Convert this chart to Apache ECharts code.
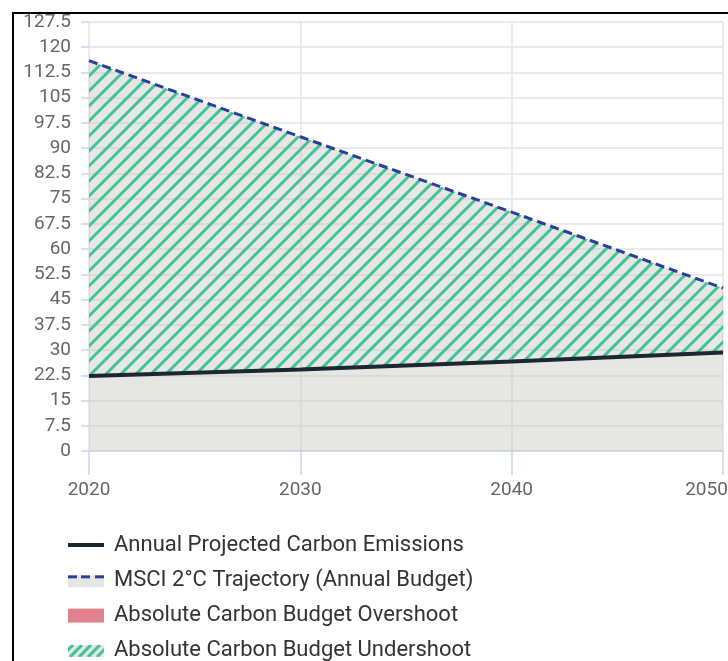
<!DOCTYPE html>
<html>
<head>
<meta charset="utf-8">
<script src="https://cdn.jsdelivr.net/npm/echarts@6/dist/echarts.min.js"></script>
<style>
html,body{margin:0;padding:0;background:#fff;}
#chart{width:728px;height:661px;}
</style>
</head>
<body>
<div id="chart"></div>
<script>
// ---- data ----
var years = [2020, 2030, 2040, 2050];
var emissions = [22.3, 24.2, 26.6, 29.3];
var trajectory = [116, 93.4, 71, 48.4];
var yTicks = [0, 7.5, 15, 22.5, 30, 37.5, 45, 52.5, 60, 67.5, 75, 82.5, 90, 97.5, 105, 112.5, 120, 127.5];
var xTicks = [2020, 2030, 2040, 2050];
var seriesNames = [
  'Annual Projected Carbon Emissions',
  'MSCI 2°C Trajectory (Annual Budget)',
  'Absolute Carbon Budget Overshoot',
  'Absolute Carbon Budget Undershoot'
];

var GRAY_AREA = 'rgba(196,196,186,0.42)';
var GREEN = '#3dc29a';
var DARK = '#1c2731';
var BLUE = '#2c3d9c';
var PINK = '#e2828f';

var ICON_W = 41; // 36px icon + 5px extra (legend adds 5px more before text)

function iconCanvas(kind) {
  var c = document.createElement('canvas');
  c.width = ICON_W; c.height = 16;
  var ctx = c.getContext('2d');
  if (kind === 'line') {
    ctx.fillStyle = DARK; ctx.fillRect(0, 6, 36, 4);
  } else if (kind === 'dash') {
    ctx.fillStyle = '#e6e6e3'; ctx.fillRect(0, 3, 36, 12);
    ctx.fillStyle = BLUE;
    ctx.fillRect(0, 3, 9, 3); ctx.fillRect(13, 3, 9, 3); ctx.fillRect(27, 3, 9, 3);
  } else if (kind === 'pink') {
    ctx.fillStyle = PINK; ctx.fillRect(0, 1, 36, 14);
  } else {
    ctx.fillStyle = '#e6e6e3'; ctx.fillRect(0, 2, 36, 12);
    ctx.save();
    ctx.beginPath(); ctx.rect(0, 2, 36, 12); ctx.clip();
    ctx.strokeStyle = GREEN; ctx.lineWidth = 3;
    for (var x = -16; x < 52; x += 9) {
      ctx.beginPath(); ctx.moveTo(x, 14); ctx.lineTo(x + 12, 2); ctx.stroke();
    }
    ctx.restore();
  }
  return 'image://' + c.toDataURL();
}

function pairs(xs, ys) { return xs.map(function (x, i) { return [x, ys[i]]; }); }
// one band segment per interval: [x0, emis0, traj0, x1, emis1, traj1]
var bandData = years.slice(0, -1).map(function (y, i) {
  return [y, emissions[i], trajectory[i], years[i + 1], emissions[i + 1], trajectory[i + 1]];
});

function renderBand(params, api) {
  var a = api.coord([api.value(0), api.value(2)]);
  var b = api.coord([api.value(3), api.value(5)]);
  var c = api.coord([api.value(3), api.value(4)]);
  var d = api.coord([api.value(0), api.value(1)]);
  var pts = [a, b, c, d];
  var minX = Math.min(a[0], d[0]), maxX = Math.max(b[0], c[0]);
  var minY = Math.min(a[1], b[1]), maxY = Math.max(c[1], d[1]);
  var step = 15;
  var lines = [];
  var kStart = Math.floor((minX + minY) / step) - 1;
  var kEnd = Math.ceil((maxX + maxY) / step) + 1;
  for (var k = kStart; k <= kEnd; k++) {
    var s = k * step;
    lines.push({
      type: 'line',
      shape: { x1: s - maxY, y1: maxY, x2: s - minY, y2: minY },
      style: { stroke: GREEN, lineWidth: 3 }
    });
  }
  return {
    type: 'group',
    children: [
      { type: 'polygon', shape: { points: pts }, style: { fill: GRAY_AREA } },
      {
        type: 'group',
        clipPath: { type: 'polygon', shape: { points: pts } },
        children: lines
      }
    ]
  };
}

var chart = echarts.init(document.getElementById('chart'), null, { renderer: 'canvas' });

var axisLabelStyle = { color: '#666666', fontSize: 19, fontFamily: 'Roboto' };

chart.setOption({
  animation: false,
  backgroundColor: '#ffffff',
  grid: { left: 89, top: 22, right: 5, bottom: 210, containLabel: false, outerBoundsMode: 'none' },
  xAxis: {
    type: 'value', min: xTicks[0], max: xTicks[xTicks.length - 1], interval: 10,
    axisLine: { show: true, lineStyle: { color: '#ccd6eb', width: 1.5 } },
    axisTick: { show: true, length: 24, lineStyle: { color: '#ccd6eb', width: 1.5 } },
    splitLine: { show: true, lineStyle: { color: '#e3e3e3', width: 1.5 } },
    axisLabel: Object.assign({
      margin: 30,
      formatter: function (v) {
        return v === xTicks[xTicks.length - 1] ? '{last|' + v + '}' : String(v);
      },
      rich: { last: { color: '#666666', fontSize: 19, fontFamily: 'Roboto', padding: [0, 33, 0, 0] } }
    }, axisLabelStyle)
  },
  yAxis: {
    type: 'value', min: yTicks[0], max: yTicks[yTicks.length - 1], interval: 7.5,
    axisLine: { show: false },
    axisTick: { show: true, length: 8, lineStyle: { color: '#ccd6eb', width: 1.5 } },
    splitLine: { show: true, lineStyle: { color: '#e3e3e3', width: 1.5 } },
    axisLabel: Object.assign({ margin: 18 }, axisLabelStyle)
  },
  legend: {
    orient: 'vertical', left: 68, top: 534, padding: 0, height: 128,
    itemWidth: ICON_W, itemHeight: 16, itemGap: 13.3,
    textStyle: { color: '#333333', fontSize: 22, fontFamily: 'Roboto', lineHeight: 22 },
    data: [
      { name: seriesNames[0], icon: iconCanvas('line') },
      { name: seriesNames[1], icon: iconCanvas('dash') },
      { name: seriesNames[2], icon: iconCanvas('pink') },
      { name: seriesNames[3], icon: iconCanvas('hatch') }
    ]
  },
  graphic: [{
    type: 'rect', silent: true, z: 100,
    shape: { x: 13, y: 13, width: 1000, height: 1000 },
    style: { fill: 'none', stroke: '#000', lineWidth: 2 }
  }],
  series: [
    {
      name: '_base', type: 'line', data: pairs(years, emissions),
      symbol: 'none', lineStyle: { width: 0 }, silent: true,
      areaStyle: { color: GRAY_AREA, opacity: 1 }, z: 1
    },
    {
      name: seriesNames[3], type: 'custom', data: bandData, renderItem: renderBand,
      silent: true, itemStyle: { color: GREEN }, z: 2,
      encode: { x: [0, 3], y: [1, 2, 4, 5] }
    },
    {
      name: seriesNames[2], type: 'line', data: [], symbol: 'none',
      itemStyle: { color: PINK }
    },
    {
      name: seriesNames[0], type: 'line', data: pairs(years, emissions),
      symbol: 'none', lineStyle: { color: DARK, width: 4 }, itemStyle: { color: DARK }, z: 4
    },
    {
      name: seriesNames[1], type: 'line', data: pairs(years, trajectory),
      symbol: 'none', lineStyle: { color: BLUE, width: 3, type: [9, 5] }, itemStyle: { color: BLUE }, z: 5
    }
  ]
});
</script>
</body>
</html>
